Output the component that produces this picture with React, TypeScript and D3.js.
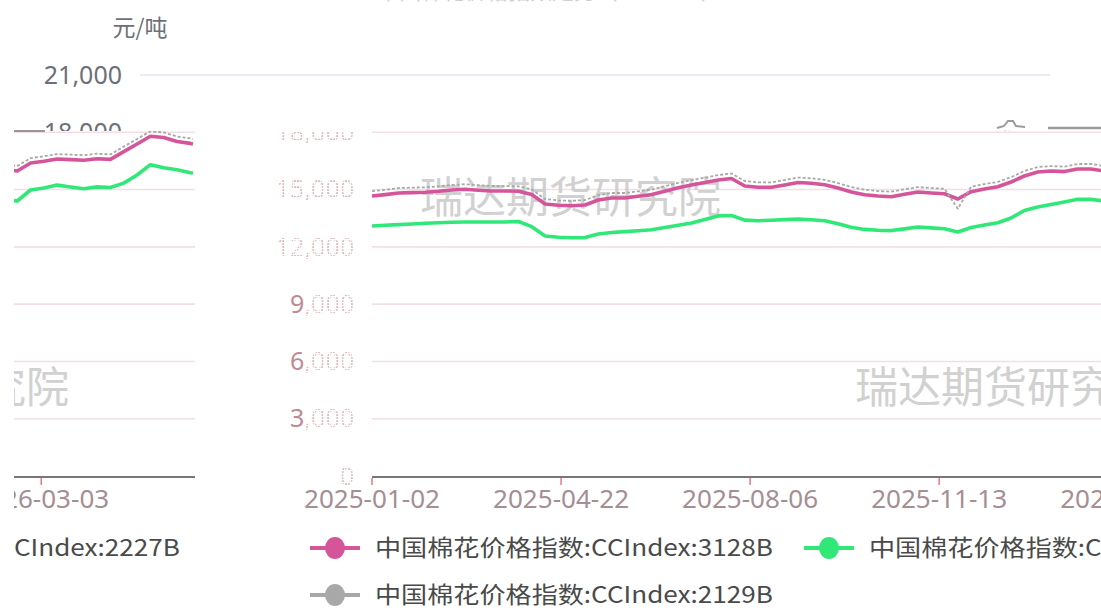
import React from "react";
import * as d3 from "d3";

// ---- data ----
const lastIndex = 341; // trading-day index of the last point
const sampleDays = d3.range(0, 341, 5).concat([341]);
const tickIndex = [0, 71, 142, 213, 284];
const tickLabels = ["2025-01-02", "2025-04-22", "2025-08-06", "2025-11-13", "2026-03-03"];
const yTicks = [0, 3000, 6000, 9000, 12000, 15000, 18000, 21000];
const yLabels = ["0", "3,000", "6,000", "9,000", "12,000", "15,000", "18,000", "21,000"];

const cc3128B = [14664, 14737, 14821, 14842, 14863, 14910, 14978, 15020, 14967, 14925,
  14925, 14915, 14742, 14245, 14177, 14156, 14192, 14454, 14559, 14559,
  14648, 14737, 14915, 15093, 15240, 15365, 15502, 15580, 15187, 15124,
  15124, 15240, 15371, 15334, 15256, 15083, 14873, 14732, 14664, 14627,
  14753, 14873, 14821, 14779, 14506, 14889, 15030, 15145, 15397, 15711,
  15920, 15973, 15941, 16078, 16078, 15973, 16392, 16481, 16601, 16570,
  16538, 16617, 16580, 16989, 17387, 17790, 17727, 17518, 17418, 17387];
const cc2227B = [13093, 13129, 13166, 13197, 13234, 13265, 13286, 13302, 13302, 13302,
  13302, 13328, 13056, 12569, 12501, 12480, 12485, 12674, 12752, 12799,
  12841, 12894, 13019, 13134, 13250, 13428, 13621, 13642, 13401, 13370,
  13396, 13428, 13454, 13417, 13365, 13208, 13030, 12914, 12867, 12852,
  12941, 13040, 12993, 12951, 12778, 13014, 13140, 13260, 13511, 13904,
  14082, 14224, 14354, 14496, 14486, 14402, 14978, 15083, 15234, 15135,
  15041, 15140, 15109, 15339, 15763, 16303, 16140, 16036, 15884, 15868];
const cc2129B = [14920, 14990, 15080, 15100, 15120, 15170, 15240, 15280, 15230, 15190,
  15180, 15170, 15010, 14500, 14430, 14410, 14450, 14710, 14820, 14820,
  14910, 15000, 15180, 15350, 15500, 15620, 15760, 15840, 15450, 15380,
  15380, 15500, 15630, 15590, 15510, 15340, 15130, 14990, 14920, 14890,
  15010, 15130, 15080, 15040, 14000, 15150, 15290, 15400, 15650, 15970,
  16180, 16230, 16200, 16340, 16340, 16230, 16650, 16740, 16860, 16830,
  16800, 16880, 16840, 17250, 17650, 18050, 17990, 17780, 17680, 17650];

const seriesNames = [
  "中国棉花价格指数:CCIndex:3128B",
  "中国棉花价格指数:CCIndex:2227B",
  "中国棉花价格指数:CCIndex:2129B",
];
const seriesColors = ["#d5559b", "#30e878", "#a8a8a8"];
const seriesData = [cc3128B, cc2227B, cc2129B];

const FONT = "'Noto Sans CJK SC', 'Noto Sans', sans-serif";
const W = 1101, H = 610;

const x = d3.scaleLinear().domain([0, lastIndex]).range([372, 1280]);
const y = d3.scaleLinear().domain([0, 21000]).range([476, 75]);
const lineGen = d3.line<number>()
  .x((_, i) => x(sampleDays[i]))
  .y((d) => y(d));

function Content({ glitch }: { glitch: boolean }) {
  const gridColor = glitch ? "#f1dfe5" : "#e0e6f1";
  const x0 = 372, x1 = 1282;
  // legend layout
  const legendItems: { x: number; y: number; i: number }[] = [];
  let lx = 310, ly = 548;
  const itemW = 494;
  seriesNames.forEach((_, i) => {
    if (lx + itemW > 1310) { lx = 310; ly += 47; }
    legendItems.push({ x: lx, y: ly, i });
    lx += itemW;
  });
  return (
    <g fontFamily={FONT}>
      {/* title (mostly cut off by the top edge) */}
      <text x={782} y={-1} textAnchor="middle" fontSize={24} fill="#888" opacity={0.4}
        textLength={345} lengthAdjust="spacingAndGlyphs">中国棉花价格指数走势（CCIndex）</text>
      <text x={372} y={36} textAnchor="middle" fontSize={23} fill="#6e7079">元/吨</text>
      {/* grid */}
      {yTicks.filter((v) => v > 0).map((v) => (
        <line key={v} x1={x0} x2={x1} y1={y(v)} y2={y(v)} stroke={gridColor} strokeWidth={1.6} />
      ))}
      {/* y labels */}
      {yTicks.map((v, i) => {
        const lab = yLabels[i];
        if (!glitch) {
          return (
            <text key={v} x={354} y={y(v)} dy="0.35em" textAnchor="end" fontSize={25}
              fill="#6e7079" fontFamily="'Noto Sans', sans-serif">{lab}</text>
          );
        }
        const solid = v > 0 && v < 12000 ? lab.slice(0, 1) : "";
        const rest = v > 0 && v < 12000 ? lab.slice(1) : lab;
        return (
          <text key={v} x={354} y={y(v)} dy="0.35em" textAnchor="end" fontSize={25}
            fontFamily="'Noto Sans', sans-serif">
            <tspan fill="#c08a93">{solid}</tspan>
            <tspan fill="url(#dotPat)">{rest}</tspan>
          </text>
        );
      })}
      {/* watermarks */}
      <text x={420} y={213} fontSize={43} fill="#c9c9c9" opacity={0.85}>瑞达期货研究院</text>
      <text x={855} y={403} fontSize={43} fill="#c9c9c9" opacity={0.85}>瑞达期货研究院</text>
      {/* series */}
      {[1, 0, 2].map((si) => (
        <path key={si} d={lineGen(seriesData[si]) || ""} fill="none"
          stroke={seriesColors[si]}
          strokeWidth={si === 2 ? 1.8 : 3.6}
          strokeDasharray={si === 2 ? "3 2" : undefined}
          strokeLinejoin="round" />
      ))}
      {/* x axis */}
      <line x1={x0} x2={x1} y1={477} y2={477} stroke="#777" strokeWidth={2} />
      {tickIndex.map((t, i) => (
        <g key={t}>
          <line x1={x(t)} x2={x(t)} y1={478} y2={485} stroke="#e07a86" strokeWidth={1.5} />
          <text x={x(t)} y={508} textAnchor="middle" fontSize={25} fill="#a58e94"
            fontFamily="'Noto Sans', sans-serif" textLength={136} lengthAdjust="spacingAndGlyphs">{tickLabels[i]}</text>
        </g>
      ))}
      {/* legend */}
      {legendItems.map(({ x: ix, y: iy, i }) => (
        <g key={i}>
          <line x1={ix} x2={ix + 50} y1={iy} y2={iy} stroke={seriesColors[i]} strokeWidth={4} />
          <ellipse cx={ix + 25} cy={iy} rx={10} ry={11} fill={seriesColors[i]} />
          <text x={ix + 65} y={iy} dy="0.36em" fontSize={23} fill="#4a4a4a"
            textLength={398} lengthAdjust="spacingAndGlyphs">{seriesNames[i]}</text>
        </g>
      ))}
    </g>
  );
}

export default function App() {
  return (
    <svg width={W} height={H} style={{ position: "fixed", left: 0, top: 0, background: "#fff" }}>
      <defs>
        <pattern id="dotPat" width={3} height={3} patternUnits="userSpaceOnUse">
          <rect x={0.3} y={0.3} width={1.5} height={1.5} fill="#dc8590" />
          <rect x={1.6} y={0.3} width={0.8} height={1.5} fill="#9fd8d8" opacity={0.6} />
        </pattern>
        <clipPath id="clipA"><rect x={0} y={0} width={W} height={131} /></clipPath>
        <clipPath id="clipB"><rect x={196} y={131} width={W - 196} height={H - 131} /></clipPath>
        <clipPath id="clipC"><rect x={14} y={131} width={182} height={H - 131} /></clipPath>
      </defs>
      <rect x={0} y={0} width={W} height={H} fill="#fff" />
      <g clipPath="url(#clipA)">
        <g transform="translate(-232,0)"><Content glitch={false} /></g>
      </g>
      <g clipPath="url(#clipB)">
        <Content glitch={true} />
      </g>
      <g clipPath="url(#clipC)">
        <g transform="translate(-1087,0)"><Content glitch={true} /></g>
      </g>
      {/* small rendering fragments near the top edge of the plot */}
      <path d="M997,128 L1004,126 L1008,121 L1013,121 L1016,126 L1025,127" fill="none" stroke="#9a9a9a" strokeWidth={2} />
      <line x1={1048} x2={1101} y1={128} y2={128} stroke="#9a9a9a" strokeWidth={2.5} />
      <line x1={14} x2={45} y1={131} y2={131} stroke="#777" strokeWidth={1.5} />
    </svg>
  );
}
